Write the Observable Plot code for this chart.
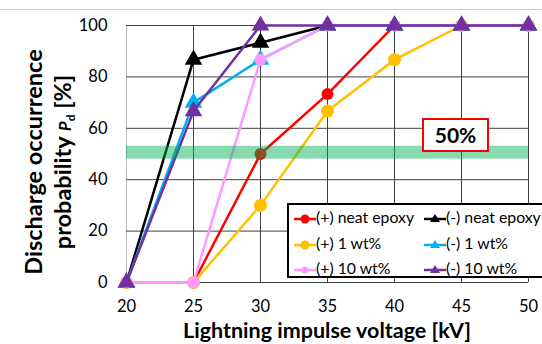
<!DOCTYPE html>
<html><head><meta charset="utf-8">
<script src="https://cdn.jsdelivr.net/npm/d3@7"></script>
<script src="https://cdn.jsdelivr.net/npm/@observablehq/plot@0.6"></script>
<style>
body{margin:0;background:#fff;font-family:Lato,"Open Sans",sans-serif;}
#wrap{position:relative;width:542px;height:344px;overflow:hidden;}
#topline{position:absolute;left:0;top:9px;width:542px;height:1px;background:#c8c8c8;}
#legend{position:absolute;left:287px;top:203px;width:258px;height:75px;border:2.5px solid #000;background:#fff;box-sizing:border-box;}
.li{position:absolute;font-size:15.8px;color:#000;height:20px;line-height:20px;white-space:nowrap;}
.li svg{vertical-align:middle;}
#box50{position:absolute;left:422px;top:118px;width:67px;height:34px;border:2.5px solid #ff0000;background:#fff;box-sizing:border-box;font-weight:bold;font-size:21px;text-align:center;line-height:29px;}
</style></head>
<body><div id="wrap"><div id="topline"></div></div>
<script>
const voltages = [20, 25, 30, 35, 40, 45, 50];
const seriesNames = ["(+) neat epoxy", "(+) 1 wt%", "(-) neat epoxy", "(-) 1 wt%", "(+) 10 wt%", "(-) 10 wt%"];
const posNeat  = [0, 0, 50, 73.3, 100, 100, 100];
const pos1wt   = [0, 0, 30, 66.7, 86.7, 100, 100];
const pos10wt  = [0, 0, 86.7, 100, 100, 100, 100];
const negNeat  = [0, 86.7, 93.3, 100, 100, 100, 100];
const neg1wt   = [0, 70, 86.7, 100, 100, 100, 100];
const neg10wt  = [0, 66.7, 100, 100, 100, 100, 100];
const xTicks = [20, 25, 30, 35, 40, 45, 50];
const yTicks = [0, 20, 40, 60, 80, 100];
const band = [{y1: 48, y2: 53}];

const series = [
  {name: "(+) neat epoxy", vals: posNeat, color: "#ff0000", sym: "circle", r: 6},
  {name: "(+) 1 wt%", vals: pos1wt, color: "#ffc000", sym: "circle", r: 6.5},
  {name: "(-) neat epoxy", vals: negNeat, color: "#000000", sym: "triangle", r: 6.5},
  {name: "(-) 1 wt%", vals: neg1wt, color: "#00b0f0", sym: "triangle", r: 6.5},
  {name: "(+) 10 wt%", vals: pos10wt, color: "#ff99ff", sym: "circle", r: 6},
  {name: "(-) 10 wt%", vals: neg10wt, color: "#7030a0", sym: "triangle", r: 6.5}
];

const marks = [
  Plot.ruleX(xTicks.slice(1), {stroke: "#404040", strokeWidth: 1}),
  Plot.ruleX([20], {stroke: "#bfbfbf", strokeWidth: 1}),
  Plot.ruleY(yTicks, {stroke: "#404040", strokeWidth: 1}),
];
for (const s of series) {
  const d = voltages.map((v, i) => ({x: v, y: s.vals[i]}));
  marks.push(Plot.line(d, {x: "x", y: "y", stroke: s.color, strokeWidth: 2.5}));
  marks.push(Plot.dot(d, {x: "x", y: "y", fill: s.color, stroke: "none", symbol: s.sym, r: s.r}));
}
marks.push(Plot.rect(band, {x1: 20, x2: 50, y1: "y1", y2: "y2", fill: "#00b050", fillOpacity: 0.47}));
marks.push(Plot.axisX({ticks: xTicks, tickSize: 0, tickPadding: 18, fontSize: 16.5, tickFormat: d => d}));
marks.push(Plot.axisY({ticks: yTicks, tickSize: 0, tickPadding: 19, fontSize: 16.5}));

const chart = Plot.plot({
  width: 542, height: 344,
  marginLeft: 126, marginRight: 14, marginTop: 25, marginBottom: 62,
  x: {domain: [20, 50], label: null},
  y: {domain: [0, 100], label: null},
  style: {fontFamily: "Lato, 'Open Sans', sans-serif", color: "#000", background: "transparent", overflow: "visible"},
  marks
});
const wrap = document.getElementById("wrap");
wrap.insertBefore(chart, wrap.firstChild);

const svg = d3.select(chart);
svg.append("text").attr("x", 327).attr("y", 338).attr("text-anchor", "middle")
  .attr("font-weight", "bold").attr("font-size", 21.5).attr("fill", "#000")
  .text("Lightning impulse voltage [kV]");
const yt = svg.append("g").attr("transform", "translate(0,162) rotate(-90)")
  .attr("font-weight", "bold").attr("font-size", 23.5).attr("fill", "#000").attr("text-anchor", "middle");
yt.append("text").attr("x", 0).attr("y", 42).text("Discharge occurrence");
const l2 = yt.append("text").attr("x", 0).attr("y", 71);
l2.append("tspan").text("probability ");
l2.append("tspan").attr("font-style", "italic").attr("font-size", 17).text("P");
l2.append("tspan").attr("font-size", 12).attr("dy", 4).text("d");
l2.append("tspan").attr("dy", -4).text(" [%]");

// legend
const legend = document.createElement("div");
legend.id = "legend";
const legendOrder = ["(+) neat epoxy", "(-) neat epoxy", "(+) 1 wt%", "(-) 1 wt%", "(+) 10 wt%", "(-) 10 wt%"];
legendOrder.forEach((name, i) => {
  const s = series.find(t => t.name === name);
  const col = i % 2, row = Math.floor(i / 2);
  const item = document.createElement("div");
  item.className = "li";
  item.style.left = (col === 0 ? 5 : 135) + "px";
  item.style.top = (row * 25.5 + 2) + "px";
  const mk = s.sym === "circle"
    ? `<circle cx="11" cy="10" r="${s.name === "(+) 10 wt%" ? 3.5 : 4.5}" fill="${s.color}"/>`
    : `<path d="M11,5 L16,13 L6,13 Z" fill="${s.color}"/>`;
  item.innerHTML = `<svg width="22" height="20"><line x1="0" x2="22" y1="10" y2="10" stroke="${s.color}" stroke-width="2.5"/>${mk}</svg>${name}`;
  legend.appendChild(item);
});
wrap.appendChild(legend);
const b = document.createElement("div");
b.id = "box50"; b.textContent = "50%";
wrap.appendChild(b);
</script>
</body></html>
